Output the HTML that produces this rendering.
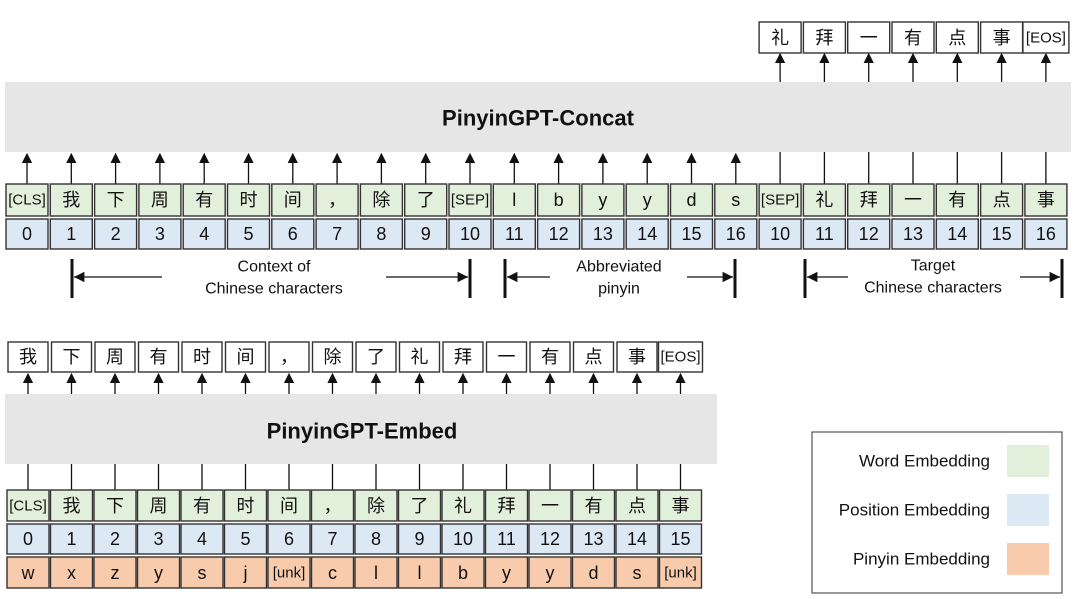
<!DOCTYPE html>
<html><head><meta charset="utf-8"><style>
body{margin:0;background:#fff}
svg{display:block}
text{font-family:"Liberation Sans","Noto Sans CJK SC",sans-serif;fill:#111;text-anchor:middle;dominant-baseline:central}
.w{fill:#e2efda;stroke:#333;stroke-width:1.4}
.p{fill:#dde8f5;stroke:#333;stroke-width:1.4}
.y{fill:#f8cbad;stroke:#333;stroke-width:1.4}
.o{fill:#fff;stroke:#333;stroke-width:1.4}
.l{stroke:#111;stroke-width:1.3}
.t{font-size:18px}
.s{font-size:15px}
</style></head><body>
<svg width="1080" height="599" viewBox="0 0 1080 599" xmlns="http://www.w3.org/2000/svg">
<defs><marker id="a" markerWidth="8" markerHeight="8" refX="4" refY="4" orient="auto"><path d="M0,0 L8,4 L0,8 z" fill="#111"/></marker>
<marker id="b" markerWidth="8" markerHeight="8" refX="8" refY="4" orient="auto"><path d="M0,0 L8,4 L0,8 z" fill="#111"/></marker></defs>

<!-- TOP -->
<rect x="5" y="82" width="1066" height="70" fill="#e6e6e6"/>
<text x="538" y="118" style="font-size:22px;font-weight:bold">PinyinGPT-Concat</text>
<g id="top">
<g transform="translate(27,0)"><line class="l" x1="0" y1="184" x2="0" y2="158" marker-end="url(#a)"/><rect class="w" x="-21" y="184" width="42" height="32"/><text class="s" y="200">[CLS]</text><rect class="p" x="-21" y="219" width="42" height="30"/><text class="t" y="234">0</text></g>
<g transform="translate(71.3,0)"><line class="l" x1="0" y1="184" x2="0" y2="158" marker-end="url(#a)"/><rect class="w" x="-21" y="184" width="42" height="32"/><text class="t" y="200">我</text><rect class="p" x="-21" y="219" width="42" height="30"/><text class="t" y="234">1</text></g>
<g transform="translate(115.6,0)"><line class="l" x1="0" y1="184" x2="0" y2="158" marker-end="url(#a)"/><rect class="w" x="-21" y="184" width="42" height="32"/><text class="t" y="200">下</text><rect class="p" x="-21" y="219" width="42" height="30"/><text class="t" y="234">2</text></g>
<g transform="translate(159.9,0)"><line class="l" x1="0" y1="184" x2="0" y2="158" marker-end="url(#a)"/><rect class="w" x="-21" y="184" width="42" height="32"/><text class="t" y="200">周</text><rect class="p" x="-21" y="219" width="42" height="30"/><text class="t" y="234">3</text></g>
<g transform="translate(204.2,0)"><line class="l" x1="0" y1="184" x2="0" y2="158" marker-end="url(#a)"/><rect class="w" x="-21" y="184" width="42" height="32"/><text class="t" y="200">有</text><rect class="p" x="-21" y="219" width="42" height="30"/><text class="t" y="234">4</text></g>
<g transform="translate(248.5,0)"><line class="l" x1="0" y1="184" x2="0" y2="158" marker-end="url(#a)"/><rect class="w" x="-21" y="184" width="42" height="32"/><text class="t" y="200">时</text><rect class="p" x="-21" y="219" width="42" height="30"/><text class="t" y="234">5</text></g>
<g transform="translate(292.8,0)"><line class="l" x1="0" y1="184" x2="0" y2="158" marker-end="url(#a)"/><rect class="w" x="-21" y="184" width="42" height="32"/><text class="t" y="200">间</text><rect class="p" x="-21" y="219" width="42" height="30"/><text class="t" y="234">6</text></g>
<g transform="translate(337.1,0)"><line class="l" x1="0" y1="184" x2="0" y2="158" marker-end="url(#a)"/><rect class="w" x="-21" y="184" width="42" height="32"/><text class="t" y="200">，</text><rect class="p" x="-21" y="219" width="42" height="30"/><text class="t" y="234">7</text></g>
<g transform="translate(381.4,0)"><line class="l" x1="0" y1="184" x2="0" y2="158" marker-end="url(#a)"/><rect class="w" x="-21" y="184" width="42" height="32"/><text class="t" y="200">除</text><rect class="p" x="-21" y="219" width="42" height="30"/><text class="t" y="234">8</text></g>
<g transform="translate(425.7,0)"><line class="l" x1="0" y1="184" x2="0" y2="158" marker-end="url(#a)"/><rect class="w" x="-21" y="184" width="42" height="32"/><text class="t" y="200">了</text><rect class="p" x="-21" y="219" width="42" height="30"/><text class="t" y="234">9</text></g>
<g transform="translate(470,0)"><line class="l" x1="0" y1="184" x2="0" y2="158" marker-end="url(#a)"/><rect class="w" x="-21" y="184" width="42" height="32"/><text class="s" y="200">[SEP]</text><rect class="p" x="-21" y="219" width="42" height="30"/><text class="t" y="234">10</text></g>
<g transform="translate(514.3,0)"><line class="l" x1="0" y1="184" x2="0" y2="158" marker-end="url(#a)"/><rect class="w" x="-21" y="184" width="42" height="32"/><text class="t" y="200">l</text><rect class="p" x="-21" y="219" width="42" height="30"/><text class="t" y="234">11</text></g>
<g transform="translate(558.6,0)"><line class="l" x1="0" y1="184" x2="0" y2="158" marker-end="url(#a)"/><rect class="w" x="-21" y="184" width="42" height="32"/><text class="t" y="200">b</text><rect class="p" x="-21" y="219" width="42" height="30"/><text class="t" y="234">12</text></g>
<g transform="translate(602.9,0)"><line class="l" x1="0" y1="184" x2="0" y2="158" marker-end="url(#a)"/><rect class="w" x="-21" y="184" width="42" height="32"/><text class="t" y="200">y</text><rect class="p" x="-21" y="219" width="42" height="30"/><text class="t" y="234">13</text></g>
<g transform="translate(647.2,0)"><line class="l" x1="0" y1="184" x2="0" y2="158" marker-end="url(#a)"/><rect class="w" x="-21" y="184" width="42" height="32"/><text class="t" y="200">y</text><rect class="p" x="-21" y="219" width="42" height="30"/><text class="t" y="234">14</text></g>
<g transform="translate(691.5,0)"><line class="l" x1="0" y1="184" x2="0" y2="158" marker-end="url(#a)"/><rect class="w" x="-21" y="184" width="42" height="32"/><text class="t" y="200">d</text><rect class="p" x="-21" y="219" width="42" height="30"/><text class="t" y="234">15</text></g>
<g transform="translate(735.8,0)"><line class="l" x1="0" y1="184" x2="0" y2="158" marker-end="url(#a)"/><rect class="w" x="-21" y="184" width="42" height="32"/><text class="t" y="200">s</text><rect class="p" x="-21" y="219" width="42" height="30"/><text class="t" y="234">16</text></g>
<g transform="translate(780.1,0)"><line class="l" x1="0" y1="184" x2="0" y2="152"/><rect class="w" x="-21" y="184" width="42" height="32"/><text class="s" y="200">[SEP]</text><rect class="p" x="-21" y="219" width="42" height="30"/><text class="t" y="234">10</text>
 <line class="l" x1="0" y1="82" x2="0" y2="58" marker-end="url(#a)"/><rect class="o" x="-21" y="22" width="42" height="31"/><text class="t" y="38">礼</text></g>
<g transform="translate(824.4,0)"><line class="l" x1="0" y1="184" x2="0" y2="152"/><rect class="w" x="-21" y="184" width="42" height="32"/><text class="t" y="200">礼</text><rect class="p" x="-21" y="219" width="42" height="30"/><text class="t" y="234">11</text>
 <line class="l" x1="0" y1="82" x2="0" y2="58" marker-end="url(#a)"/><rect class="o" x="-21" y="22" width="42" height="31"/><text class="t" y="38">拜</text></g>
<g transform="translate(868.7,0)"><line class="l" x1="0" y1="184" x2="0" y2="152"/><rect class="w" x="-21" y="184" width="42" height="32"/><text class="t" y="200">拜</text><rect class="p" x="-21" y="219" width="42" height="30"/><text class="t" y="234">12</text>
 <line class="l" x1="0" y1="82" x2="0" y2="58" marker-end="url(#a)"/><rect class="o" x="-21" y="22" width="42" height="31"/><text class="t" y="38">一</text></g>
<g transform="translate(913,0)"><line class="l" x1="0" y1="184" x2="0" y2="152"/><rect class="w" x="-21" y="184" width="42" height="32"/><text class="t" y="200">一</text><rect class="p" x="-21" y="219" width="42" height="30"/><text class="t" y="234">13</text>
 <line class="l" x1="0" y1="82" x2="0" y2="58" marker-end="url(#a)"/><rect class="o" x="-21" y="22" width="42" height="31"/><text class="t" y="38">有</text></g>
<g transform="translate(957.3,0)"><line class="l" x1="0" y1="184" x2="0" y2="152"/><rect class="w" x="-21" y="184" width="42" height="32"/><text class="t" y="200">有</text><rect class="p" x="-21" y="219" width="42" height="30"/><text class="t" y="234">14</text>
 <line class="l" x1="0" y1="82" x2="0" y2="58" marker-end="url(#a)"/><rect class="o" x="-21" y="22" width="42" height="31"/><text class="t" y="38">点</text></g>
<g transform="translate(1001.6,0)"><line class="l" x1="0" y1="184" x2="0" y2="152"/><rect class="w" x="-21" y="184" width="42" height="32"/><text class="t" y="200">点</text><rect class="p" x="-21" y="219" width="42" height="30"/><text class="t" y="234">15</text>
 <line class="l" x1="0" y1="82" x2="0" y2="58" marker-end="url(#a)"/><rect class="o" x="-21" y="22" width="42" height="31"/><text class="t" y="38">事</text></g>
<g transform="translate(1045.9,0)"><line class="l" x1="0" y1="184" x2="0" y2="152"/><rect class="w" x="-21" y="184" width="42" height="32"/><text class="t" y="200">事</text><rect class="p" x="-21" y="219" width="42" height="30"/><text class="t" y="234">16</text>
 <line class="l" x1="0" y1="82" x2="0" y2="58" marker-end="url(#a)"/><rect class="o" x="-23" y="22" width="46" height="31"/><text class="s" y="38">[EOS]</text></g>
</g>

<!-- brackets -->
<g stroke="#111">
<line x1="72" y1="259" x2="72" y2="298" stroke-width="3"/><line x1="470" y1="259" x2="470" y2="298" stroke-width="3"/>
<line x1="505" y1="259" x2="505" y2="298" stroke-width="3"/><line x1="735" y1="259" x2="735" y2="298" stroke-width="3"/>
<line x1="805" y1="259" x2="805" y2="298" stroke-width="3"/><line x1="1062" y1="259" x2="1062" y2="298" stroke-width="3"/>
<line x1="162" y1="277" x2="74" y2="277" stroke-width="1.3" marker-end="url(#b)"/>
<line x1="386" y1="277" x2="468" y2="277" stroke-width="1.3" marker-end="url(#b)"/>
<line x1="550" y1="277" x2="507" y2="277" stroke-width="1.3" marker-end="url(#b)"/>
<line x1="687" y1="277" x2="733" y2="277" stroke-width="1.3" marker-end="url(#b)"/>
<line x1="848" y1="277" x2="807" y2="277" stroke-width="1.3" marker-end="url(#b)"/>
<line x1="1020" y1="277" x2="1060" y2="277" stroke-width="1.3" marker-end="url(#b)"/>
</g>
<g style="font-size:16px">
<text x="274" y="267">Context of</text><text x="274" y="289">Chinese characters</text>
<text x="619" y="267">Abbreviated</text><text x="619" y="289">pinyin</text>
<text x="933" y="266">Target</text><text x="933" y="288">Chinese characters</text>
</g>

<!-- BOTTOM -->
<rect x="5" y="394" width="712" height="70" fill="#e6e6e6"/>
<text x="362" y="431" style="font-size:22px;font-weight:bold">PinyinGPT-Embed</text>
<g>
<g transform="translate(28,0)"><line class="l" x1="0" y1="394" x2="0" y2="378" marker-end="url(#a)"/><rect class="o" x="-20" y="342" width="40" height="30"/><text class="t" y="357">我</text><line class="l" x1="0" y1="464" x2="0" y2="490"/><rect class="w" x="-21" y="490" width="42" height="31"/><text class="s" y="506">[CLS]</text><rect class="p" x="-21" y="524" width="42" height="30"/><text class="t" y="539">0</text><rect class="y" x="-21" y="557" width="42" height="31"/><text class="t" y="573">w</text></g>
<g transform="translate(71.5,0)"><line class="l" x1="0" y1="394" x2="0" y2="378" marker-end="url(#a)"/><rect class="o" x="-20" y="342" width="40" height="30"/><text class="t" y="357">下</text><line class="l" x1="0" y1="464" x2="0" y2="490"/><rect class="w" x="-21" y="490" width="42" height="31"/><text class="t" y="506">我</text><rect class="p" x="-21" y="524" width="42" height="30"/><text class="t" y="539">1</text><rect class="y" x="-21" y="557" width="42" height="31"/><text class="t" y="573">x</text></g>
<g transform="translate(115,0)"><line class="l" x1="0" y1="394" x2="0" y2="378" marker-end="url(#a)"/><rect class="o" x="-20" y="342" width="40" height="30"/><text class="t" y="357">周</text><line class="l" x1="0" y1="464" x2="0" y2="490"/><rect class="w" x="-21" y="490" width="42" height="31"/><text class="t" y="506">下</text><rect class="p" x="-21" y="524" width="42" height="30"/><text class="t" y="539">2</text><rect class="y" x="-21" y="557" width="42" height="31"/><text class="t" y="573">z</text></g>
<g transform="translate(158.5,0)"><line class="l" x1="0" y1="394" x2="0" y2="378" marker-end="url(#a)"/><rect class="o" x="-20" y="342" width="40" height="30"/><text class="t" y="357">有</text><line class="l" x1="0" y1="464" x2="0" y2="490"/><rect class="w" x="-21" y="490" width="42" height="31"/><text class="t" y="506">周</text><rect class="p" x="-21" y="524" width="42" height="30"/><text class="t" y="539">3</text><rect class="y" x="-21" y="557" width="42" height="31"/><text class="t" y="573">y</text></g>
<g transform="translate(202,0)"><line class="l" x1="0" y1="394" x2="0" y2="378" marker-end="url(#a)"/><rect class="o" x="-20" y="342" width="40" height="30"/><text class="t" y="357">时</text><line class="l" x1="0" y1="464" x2="0" y2="490"/><rect class="w" x="-21" y="490" width="42" height="31"/><text class="t" y="506">有</text><rect class="p" x="-21" y="524" width="42" height="30"/><text class="t" y="539">4</text><rect class="y" x="-21" y="557" width="42" height="31"/><text class="t" y="573">s</text></g>
<g transform="translate(245.5,0)"><line class="l" x1="0" y1="394" x2="0" y2="378" marker-end="url(#a)"/><rect class="o" x="-20" y="342" width="40" height="30"/><text class="t" y="357">间</text><line class="l" x1="0" y1="464" x2="0" y2="490"/><rect class="w" x="-21" y="490" width="42" height="31"/><text class="t" y="506">时</text><rect class="p" x="-21" y="524" width="42" height="30"/><text class="t" y="539">5</text><rect class="y" x="-21" y="557" width="42" height="31"/><text class="t" y="573">j</text></g>
<g transform="translate(289,0)"><line class="l" x1="0" y1="394" x2="0" y2="378" marker-end="url(#a)"/><rect class="o" x="-20" y="342" width="40" height="30"/><text class="t" y="357">，</text><line class="l" x1="0" y1="464" x2="0" y2="490"/><rect class="w" x="-21" y="490" width="42" height="31"/><text class="t" y="506">间</text><rect class="p" x="-21" y="524" width="42" height="30"/><text class="t" y="539">6</text><rect class="y" x="-21" y="557" width="42" height="31"/><text class="s" y="573">[unk]</text></g>
<g transform="translate(332.5,0)"><line class="l" x1="0" y1="394" x2="0" y2="378" marker-end="url(#a)"/><rect class="o" x="-20" y="342" width="40" height="30"/><text class="t" y="357">除</text><line class="l" x1="0" y1="464" x2="0" y2="490"/><rect class="w" x="-21" y="490" width="42" height="31"/><text class="t" y="506">，</text><rect class="p" x="-21" y="524" width="42" height="30"/><text class="t" y="539">7</text><rect class="y" x="-21" y="557" width="42" height="31"/><text class="t" y="573">c</text></g>
<g transform="translate(376,0)"><line class="l" x1="0" y1="394" x2="0" y2="378" marker-end="url(#a)"/><rect class="o" x="-20" y="342" width="40" height="30"/><text class="t" y="357">了</text><line class="l" x1="0" y1="464" x2="0" y2="490"/><rect class="w" x="-21" y="490" width="42" height="31"/><text class="t" y="506">除</text><rect class="p" x="-21" y="524" width="42" height="30"/><text class="t" y="539">8</text><rect class="y" x="-21" y="557" width="42" height="31"/><text class="t" y="573">l</text></g>
<g transform="translate(419.5,0)"><line class="l" x1="0" y1="394" x2="0" y2="378" marker-end="url(#a)"/><rect class="o" x="-20" y="342" width="40" height="30"/><text class="t" y="357">礼</text><line class="l" x1="0" y1="464" x2="0" y2="490"/><rect class="w" x="-21" y="490" width="42" height="31"/><text class="t" y="506">了</text><rect class="p" x="-21" y="524" width="42" height="30"/><text class="t" y="539">9</text><rect class="y" x="-21" y="557" width="42" height="31"/><text class="t" y="573">l</text></g>
<g transform="translate(463,0)"><line class="l" x1="0" y1="394" x2="0" y2="378" marker-end="url(#a)"/><rect class="o" x="-20" y="342" width="40" height="30"/><text class="t" y="357">拜</text><line class="l" x1="0" y1="464" x2="0" y2="490"/><rect class="w" x="-21" y="490" width="42" height="31"/><text class="t" y="506">礼</text><rect class="p" x="-21" y="524" width="42" height="30"/><text class="t" y="539">10</text><rect class="y" x="-21" y="557" width="42" height="31"/><text class="t" y="573">b</text></g>
<g transform="translate(506.5,0)"><line class="l" x1="0" y1="394" x2="0" y2="378" marker-end="url(#a)"/><rect class="o" x="-20" y="342" width="40" height="30"/><text class="t" y="357">一</text><line class="l" x1="0" y1="464" x2="0" y2="490"/><rect class="w" x="-21" y="490" width="42" height="31"/><text class="t" y="506">拜</text><rect class="p" x="-21" y="524" width="42" height="30"/><text class="t" y="539">11</text><rect class="y" x="-21" y="557" width="42" height="31"/><text class="t" y="573">y</text></g>
<g transform="translate(550,0)"><line class="l" x1="0" y1="394" x2="0" y2="378" marker-end="url(#a)"/><rect class="o" x="-20" y="342" width="40" height="30"/><text class="t" y="357">有</text><line class="l" x1="0" y1="464" x2="0" y2="490"/><rect class="w" x="-21" y="490" width="42" height="31"/><text class="t" y="506">一</text><rect class="p" x="-21" y="524" width="42" height="30"/><text class="t" y="539">12</text><rect class="y" x="-21" y="557" width="42" height="31"/><text class="t" y="573">y</text></g>
<g transform="translate(593.5,0)"><line class="l" x1="0" y1="394" x2="0" y2="378" marker-end="url(#a)"/><rect class="o" x="-20" y="342" width="40" height="30"/><text class="t" y="357">点</text><line class="l" x1="0" y1="464" x2="0" y2="490"/><rect class="w" x="-21" y="490" width="42" height="31"/><text class="t" y="506">有</text><rect class="p" x="-21" y="524" width="42" height="30"/><text class="t" y="539">13</text><rect class="y" x="-21" y="557" width="42" height="31"/><text class="t" y="573">d</text></g>
<g transform="translate(637,0)"><line class="l" x1="0" y1="394" x2="0" y2="378" marker-end="url(#a)"/><rect class="o" x="-20" y="342" width="40" height="30"/><text class="t" y="357">事</text><line class="l" x1="0" y1="464" x2="0" y2="490"/><rect class="w" x="-21" y="490" width="42" height="31"/><text class="t" y="506">点</text><rect class="p" x="-21" y="524" width="42" height="30"/><text class="t" y="539">14</text><rect class="y" x="-21" y="557" width="42" height="31"/><text class="t" y="573">s</text></g>
<g transform="translate(680.5,0)"><line class="l" x1="0" y1="394" x2="0" y2="378" marker-end="url(#a)"/><rect class="o" x="-22" y="342" width="44" height="30"/><text class="s" y="357">[EOS]</text><line class="l" x1="0" y1="464" x2="0" y2="490"/><rect class="w" x="-21" y="490" width="42" height="31"/><text class="t" y="506">事</text><rect class="p" x="-21" y="524" width="42" height="30"/><text class="t" y="539">15</text><rect class="y" x="-21" y="557" width="42" height="31"/><text class="s" y="573">[unk]</text></g>
</g>

<!-- legend -->
<rect x="812" y="432" width="250" height="161" fill="#fff" stroke="#555" stroke-width="1.2"/>
<g style="font-size:17px">
<text x="990" y="461" style="text-anchor:end">Word Embedding</text>
<text x="990" y="510" style="text-anchor:end">Position Embedding</text>
<text x="990" y="559" style="text-anchor:end">Pinyin Embedding</text>
</g>
<rect x="1007" y="445" width="42" height="32" fill="#e2efda"/>
<rect x="1007" y="494" width="42" height="32" fill="#dde8f5"/>
<rect x="1007" y="543" width="42" height="32" fill="#f8cbad"/>
</svg>
</body></html>
